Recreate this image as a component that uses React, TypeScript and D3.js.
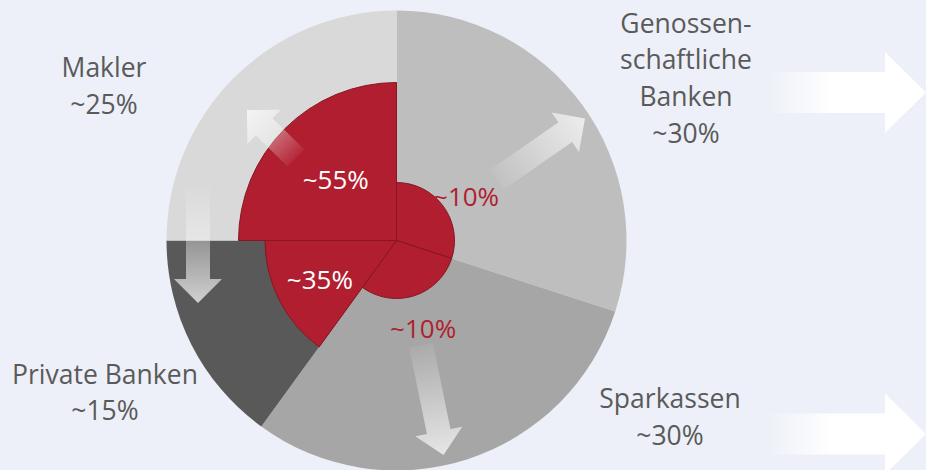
import React from "react";
import * as d3 from "d3";

const categories = ["Genossen-\nschaftliche\nBanken", "Sparkassen", "Private Banken", "Makler"];
const outerShares = [30, 30, 15, 25];
const innerShares = [10, 10, 35, 55];
const outerLabels = ["~30%", "~30%", "~15%", "~25%"];
const innerLabels = ["~10%", "~10%", "~35%", "~55%"];

const W = 926;
const H = 470;
const CX = 396.5;
const CY = 240.5;
const R = 230;
const outerColors = ["#bebebe", "#a6a6a6", "#595959", "#d9d9d9"];
const RED = "#b01e2f";
const RED_STROKE = "#861722";
const TEXT = "#5a5a5a";
const FONT = "'Open Sans', sans-serif";

// decorative arrows inside the pie: [tailX, tailY, tipX, tipY] relative to centre
const pieArrows = [
  [100, -60.5, 188.5, -122],
  [24.5, 104.5, 47, 214.5],
  [-198.5, -52.5, -198.5, 62.5],
  [-100.5, -82.5, -149.5, -130.5],
];
// big arrows on the right: centre line y
const bigArrowY = [92.5, 434];

function arrowPath(len: number, shaftW: number, headW: number, headL: number) {
  const p = d3.path();
  const s = shaftW / 2;
  const h = headW / 2;
  p.moveTo(0, -s);
  p.lineTo(len - headL, -s);
  p.lineTo(len - headL, -h);
  p.lineTo(len, 0);
  p.lineTo(len - headL, h);
  p.lineTo(len - headL, s);
  p.lineTo(0, s);
  p.closePath();
  return p.toString();
}

export default function App() {
  const pie = d3
    .pie<number>()
    .sort(null)
    .value((d) => d)
    .startAngle(0)
    .endAngle(2 * Math.PI);
  const arcs = pie(outerShares);
  const outerArc = d3.arc<d3.PieArcDatum<number>>().innerRadius(0).outerRadius(R);
  const rScale = d3.scaleLog().domain([10, 55]).range([58, 158]);
  const innerArc = d3.arc<any>().innerRadius(0);
  const labelR = 86;

  const lines = categories.map((c) => c.split("\n"));
  const outerLabelPos = [
    { x: 686, y: 32.5 },
    { x: 670, y: 408 },
    { x: 105, y: 383.5 },
    { x: 104, y: 77 },
  ];
  const lineH = 36.8;

  return (
    <div style={{ position: "fixed", left: 0, top: 0, width: W, height: H }}>
      <svg width={W} height={H} style={{ display: "block" }}>
        <defs>
          <linearGradient id="fadeArrow" x1="0" y1="0" x2="1" y2="0">
            <stop offset="0" stopColor="#ffffff" stopOpacity={0.05} />
            <stop offset="1" stopColor="#ffffff" stopOpacity={0.72} />
          </linearGradient>
          <linearGradient id="bigArrow" x1="0" y1="0" x2="1" y2="0">
            <stop offset="0" stopColor="#ffffff" stopOpacity={0} />
            <stop offset="0.42" stopColor="#ffffff" stopOpacity={1} />
            <stop offset="1" stopColor="#ffffff" stopOpacity={1} />
          </linearGradient>
        </defs>
        <rect width={W} height={H} fill="#edf0f8" />

        {bigArrowY.map((y, i) => (
          <path
            key={"big" + i}
            transform={`translate(765,${y})`}
            d={arrowPath(161, 41, 81, 41)}
            fill="url(#bigArrow)"
          />
        ))}

        <g transform={`translate(${CX},${CY})`}>
          {arcs.map((a, i) => (
            <path key={"o" + i} d={outerArc(a) || ""} fill={outerColors[i]} />
          ))}
          {arcs.map((a, i) => (
            <path
              key={"i" + i}
              d={innerArc({ ...a, outerRadius: rScale(innerShares[i]) }) || ""}
              fill={RED}
              stroke={RED_STROKE}
              strokeWidth={1}
              strokeLinejoin="round"
            />
          ))}
          {pieArrows.map(([x1, y1, x2, y2], i) => {
            const len = Math.hypot(x2 - x1, y2 - y1);
            const ang = (Math.atan2(y2 - y1, x2 - x1) * 180) / Math.PI;
            return (
              <path
                key={"a" + i}
                transform={`translate(${x1},${y1}) rotate(${ang})`}
                d={arrowPath(len, 24, 48, 24)}
                fill="url(#fadeArrow)"
              />
            );
          })}
          {arcs.map((a, i) => {
            const mid = (a.startAngle + a.endAngle) / 2;
            const big = innerShares[i] > 20;
            const x = Math.sin(mid) * labelR;
            const y = -Math.cos(mid) * labelR;
            return (
              <text
                key={"t" + i}
                x={x}
                y={y}
                dy={big ? "0.36em" : "0.6em"}
                textAnchor="middle"
                fontFamily={FONT}
                fontSize={26}
                fill={big ? "#ffffff" : RED}
              >
                {innerLabels[i]}
              </text>
            );
          })}
        </g>

        {lines.map((ls, i) => {
          const pos = outerLabelPos[i];
          return (
            <text
              key={"l" + i}
              textAnchor="middle"
              fontFamily={FONT}
              fontSize={26.5}
              fill={TEXT}
            >
              {ls.map((t, j) => (
                <tspan key={j} x={pos.x} y={pos.y + j * lineH}>
                  {t}
                </tspan>
              ))}
              <tspan x={pos.x} y={pos.y + ls.length * lineH}>
                {outerLabels[i]}
              </tspan>
            </text>
          );
        })}
      </svg>
    </div>
  );
}
